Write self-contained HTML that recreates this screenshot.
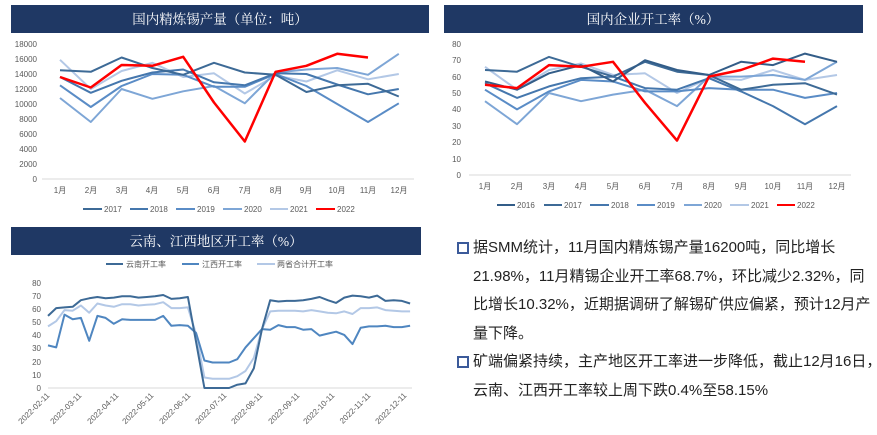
<!DOCTYPE html>
<html><head><meta charset="utf-8">
<style>
html,body{margin:0;padding:0;background:#fff;width:877px;height:435px;overflow:hidden;}
svg{position:absolute;left:0;top:0;}
.t{font-family:"Liberation Sans","Noto Sans CJK SC",sans-serif;font-size:8px;fill:#595959;}
.ti{font-family:"Liberation Serif","Noto Serif CJK SC",serif;font-size:13.5px;fill:#fff;}
#txt{position:absolute;left:473px;top:234px;font-family:"Liberation Sans","Noto Sans CJK SC",sans-serif;font-size:15px;color:#222;line-height:28.6px;white-space:nowrap;}
.b{position:absolute;left:-16px;width:8px;height:8px;border:2px solid #3b5a9a;}
</style></head><body>
<svg width="877" height="435" id="s">
<rect x="11" y="5" width="418" height="28" fill="#1f3864"/>
<text class="ti" x="220" y="24" text-anchor="middle">国内精炼锡产量（单位：吨）</text>
<rect x="444" y="5" width="419" height="28" fill="#1f3864"/>
<text class="ti" x="653" y="24" text-anchor="middle">国内企业开工率（%）</text>
<rect x="11" y="227" width="410" height="28" fill="#1f3864"/>
<text class="ti" x="216" y="246" text-anchor="middle">云南、江西地区开工率（%）</text>
<line x1="42" y1="179" x2="414" y2="179" stroke="#d9d9d9"/>
<g class="t" text-anchor="end">
<text x="37" y="47">18000</text><text x="37" y="62">16000</text><text x="37" y="77">14000</text><text x="37" y="92">12000</text><text x="37" y="107">10000</text><text x="37" y="122">8000</text><text x="37" y="137">6000</text><text x="37" y="152">4000</text><text x="37" y="167">2000</text><text x="37" y="182">0</text>
</g>
<g class="t" text-anchor="middle">
<text x="60" y="193">1月</text><text x="91" y="193">2月</text><text x="122" y="193">3月</text><text x="152" y="193">4月</text><text x="183" y="193">5月</text><text x="214" y="193">6月</text><text x="245" y="193">7月</text><text x="276" y="193">8月</text><text x="306" y="193">9月</text><text x="337" y="193">10月</text><text x="368" y="193">11月</text><text x="399" y="193">12月</text>
</g>
<g class="t">
<line x1="83" y1="209" x2="102" y2="209" stroke="#3d6a96" stroke-width="2"/><text x="104" y="212">2017</text>
<line x1="130" y1="209" x2="148" y2="209" stroke="#4577ad" stroke-width="2"/><text x="150" y="212">2018</text>
<line x1="176" y1="209" x2="195" y2="209" stroke="#5a8cc6" stroke-width="2"/><text x="197" y="212">2019</text>
<line x1="223" y1="209" x2="242" y2="209" stroke="#7ea6d6" stroke-width="2"/><text x="244" y="212">2020</text>
<line x1="270" y1="209" x2="288" y2="209" stroke="#b3c8e6" stroke-width="2"/><text x="290" y="212">2021</text>
<line x1="316" y1="209" x2="335" y2="209" stroke="#ff0000" stroke-width="2"/><text x="337" y="212">2022</text>
</g>
<line x1="469" y1="175" x2="851" y2="175" stroke="#d9d9d9"/>
<g class="t" text-anchor="end">
<text x="461" y="47">80</text><text x="461" y="63">70</text><text x="461" y="80">60</text><text x="461" y="96">50</text><text x="461" y="112">40</text><text x="461" y="129">30</text><text x="461" y="145">20</text><text x="461" y="162">10</text><text x="461" y="178">0</text>
</g>
<g class="t" text-anchor="middle">
<text x="485" y="189">1月</text><text x="517" y="189">2月</text><text x="549" y="189">3月</text><text x="581" y="189">4月</text><text x="613" y="189">5月</text><text x="645" y="189">6月</text><text x="677" y="189">7月</text><text x="709" y="189">8月</text><text x="741" y="189">9月</text><text x="773" y="189">10月</text><text x="805" y="189">11月</text><text x="837" y="189">12月</text>
</g>
<g class="t">
<line x1="497" y1="205" x2="515" y2="205" stroke="#335d88" stroke-width="2"/><text x="517" y="208">2016</text>
<line x1="544" y1="205" x2="562" y2="205" stroke="#3d6a96" stroke-width="2"/><text x="564" y="208">2017</text>
<line x1="590" y1="205" x2="609" y2="205" stroke="#4577ad" stroke-width="2"/><text x="611" y="208">2018</text>
<line x1="637" y1="205" x2="655" y2="205" stroke="#5a8cc6" stroke-width="2"/><text x="657" y="208">2019</text>
<line x1="684" y1="205" x2="702" y2="205" stroke="#7ea6d6" stroke-width="2"/><text x="704" y="208">2020</text>
<line x1="730" y1="205" x2="749" y2="205" stroke="#b3c8e6" stroke-width="2"/><text x="751" y="208">2021</text>
<line x1="777" y1="205" x2="795" y2="205" stroke="#ff0000" stroke-width="2"/><text x="797" y="208">2022</text>
</g>
<g class="t" font-size="9">
<line x1="106" y1="264" x2="123" y2="264" stroke="#3d6a96" stroke-width="2"/><text x="126" y="267">云南开工率</text>
<line x1="182" y1="264" x2="199" y2="264" stroke="#4f86c0" stroke-width="2"/><text x="202" y="267">江西开工率</text>
<line x1="257" y1="264" x2="275" y2="264" stroke="#b3c8e6" stroke-width="2"/><text x="277" y="267">两省合计开工率</text>
</g>
<line x1="48" y1="388" x2="412" y2="388" stroke="#d9d9d9"/>
<g class="t" text-anchor="end">
<text x="41" y="286">80</text><text x="41" y="299">70</text><text x="41" y="312">60</text><text x="41" y="325">50</text><text x="41" y="338">40</text><text x="41" y="351">30</text><text x="41" y="365">20</text><text x="41" y="378">10</text><text x="41" y="391">0</text>
</g>
<g class="t" text-anchor="end" font-size="8.5">
<text transform="translate(50,396) rotate(-45)">2022-02-11</text>
<text transform="translate(82,396) rotate(-45)">2022-03-11</text>
<text transform="translate(119,396) rotate(-45)">2022-04-11</text>
<text transform="translate(154,396) rotate(-45)">2022-05-11</text>
<text transform="translate(191,396) rotate(-45)">2022-06-11</text>
<text transform="translate(227,396) rotate(-45)">2022-07-11</text>
<text transform="translate(263,396) rotate(-45)">2022-08-11</text>
<text transform="translate(300,396) rotate(-45)">2022-09-11</text>
<text transform="translate(335,396) rotate(-45)">2022-10-11</text>
<text transform="translate(371,396) rotate(-45)">2022-11-11</text>
<text transform="translate(407,396) rotate(-45)">2022-12-11</text>
</g>
<g id="lines"></g>
</svg>
<div id="txt">
<div style="position:relative"><span class="b" style="top:8px"></span>据SMM统计，11月国内精炼锡产量16200吨，同比增长</div>
<div>21.98%，11月精锡企业开工率68.7%，环比减少2.32%，同</div>
<div>比增长10.32%，近期据调研了解锡矿供应偏紧，预计12月产</div>
<div>量下降。</div>
<div style="position:relative"><span class="b" style="top:8px"></span>矿端偏紧持续，主产地区开工率进一步降低，截止12月16日，</div>
<div>云南、江西开工率较上周下跌0.4%至58.15%</div>
</div>
<script>
var g=document.getElementById('lines'),NS='http://www.w3.org/2000/svg';
function pl(xs,ys,c,w){var p=document.createElementNS(NS,'polyline');var pts=[];for(var i=0;i<ys.length;i++)pts.push(xs(i).toFixed(1)+','+ys[i].toFixed(1));p.setAttribute('points',pts.join(' '));p.setAttribute('fill','none');p.setAttribute('stroke',c);p.setAttribute('stroke-width',w);p.setAttribute('stroke-linejoin','round');g.appendChild(p);}
var c1=[["#b3c8e6",[15900,12000,14400,15500,13600,14100,11400,13800,13000,14500,13300,14000]],
["#7ea6d6",[10800,7600,12000,10700,11700,12400,10100,14200,14600,14800,13900,16700]],
["#5a8cc6",[12500,9600,12400,14000,13900,12300,12300,14000,12400,10000,7600,10100]],
["#4577ad",[13600,11500,13100,14200,14600,12900,12500,14100,14000,12600,11300,12000]],
["#3d6a96",[14500,14300,16200,14800,13900,15500,14200,13900,11600,12500,12700,11000]],
["#ff0000",[13600,12200,15200,15100,16300,10200,5000,14300,15100,16700,16200]]];
c1.forEach(function(s){pl(function(i){return 60+i*30.8},s[1].map(function(v){return 179-v/18000*135}),s[0],s[0]=="#ff0000"?2.5:2)});
var c2=[["#b3c8e6",[66,52,64,68,61,62,50,59,58,64,58,61]],
["#7ea6d6",[45,31,50,45,49,52,42,60,60,61,58,69]],
["#5a8cc6",[52,40,51,58,57,51,51,53,52,52,47,50]],
["#4577ad",[56,47,54,59,60,53,52,59,51,42,31,42]],
["#3d6a96",[64,63,72,66,60,69,63,61,52,55,56,49]],
["#335d88",[57,52,62,67,57,70,64,61,69,67,74,69]],
["#ff0000",[55,53,67,66,69,44,21,60,64,71,69]]];
c2.forEach(function(s){pl(function(i){return 485+i*32},s[1].map(function(v){return 175-v*1.64}),s[0],s[0]=="#ff0000"?2.5:2)});
var yn=[55,61,61.5,62,67,68.5,69.5,68.5,69,70,70,69,69.5,70,71,68,68.5,69.5,35,0,0,0,0,2.5,3.5,15,45,67,66,66.5,66.5,67,68,69.5,67,65,69,70.5,70,69,70.5,66.5,67,66.5,64.5];
var jx=[32.5,31,56,52.5,53.5,36,55,53.5,49,52.5,52,52,52,52,55,47.5,48,47.5,42,21,19.5,19.5,19.5,22,31,38,45,44.5,48,46.5,46.5,44.5,45,40,41.5,43,40.5,33.5,46,47,47,47.5,46.5,46.5,47.5];
var hj=[47,51,59.5,59,63,57.5,64.5,63,62,64,64,63,63.5,64,65.5,61,61,61.5,41,8,7,7,7,9,13,23,45,58.5,59,59,59,58.5,59.5,58.5,57.5,57,58.5,56.5,61,61,61.5,59.5,59,58.5,58.5];
var fx=function(i){return 48+i*8.23};
pl(fx,hj.map(function(v){return 388-v*1.31}),"#b3c8e6",2);
pl(fx,jx.map(function(v){return 388-v*1.31}),"#4f86c0",2);
pl(fx,yn.map(function(v){return 388-v*1.31}),"#3d6a96",2);
</script>
</body></html>
